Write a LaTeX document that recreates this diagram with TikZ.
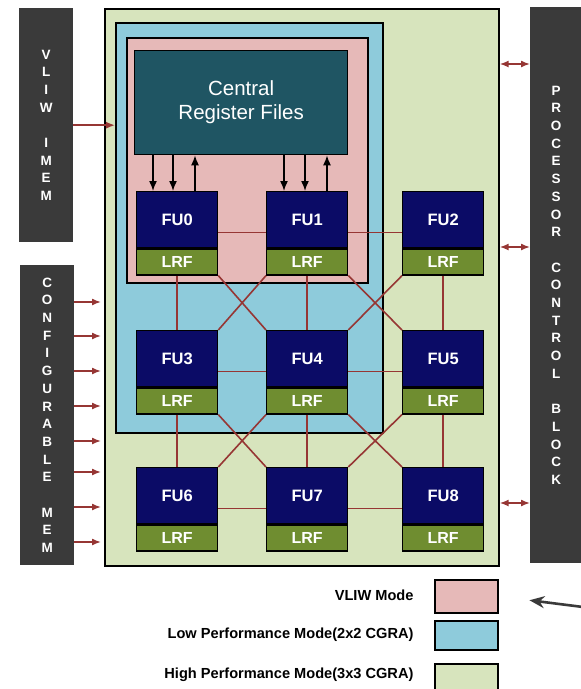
\documentclass[tikz,border=0pt]{standalone}
\usepackage{fontspec}
\setmainfont{Liberation Sans}
\usetikzlibrary{arrows.meta}
\definecolor{outercol}{HTML}{D7E4BD}
\definecolor{bluecol}{HTML}{8ECBDB}
\definecolor{pinkcol}{HTML}{E6B9B8}
\definecolor{darkcol}{HTML}{3A3A3A}
\definecolor{crfcol}{HTML}{1F5563}
\definecolor{fucol}{HTML}{0B0B66}
\definecolor{lrfcol}{HTML}{6F8D30}
\definecolor{linkcol}{HTML}{963634}
\tikzset{
  region/.style={draw=black, line width=1.7pt, anchor=north west, inner sep=0pt},
  darkblock/.style={fill=darkcol, anchor=north west, inner sep=0pt},
  vtext/.style={text=white, align=center, font=\bfseries\fontsize{13.5}{17.7}\selectfont},
  fubox/.style={draw=black, line width=1.3pt, fill=fucol, text=white, anchor=north west,
    minimum width=81pt, minimum height=56pt, inner sep=0pt,
    font=\bfseries\fontsize{16.5}{18}\selectfont},
  lrfbox/.style={draw=black, line width=1.3pt, fill=lrfcol, text=white, anchor=north,
    minimum width=81pt, minimum height=26pt, inner sep=0pt,
    font=\bfseries\fontsize{16}{18}\selectfont},
  link/.style={draw=linkcol, line width=1.6pt},
  redarrow/.style={draw=linkcol, line width=1.5pt, -{Latex[length=9pt,width=7pt]}},
  dblarrow/.style={draw=linkcol, line width=1.5pt, {Latex[length=9pt,width=7pt]}-{Latex[length=9pt,width=7pt]}},
  blackarrow/.style={draw=black, line width=1.5pt, -{Latex[length=10pt,width=8pt]}},
  legendbox/.style={draw=black, line width=1.7pt, anchor=north west, minimum width=63pt, inner sep=0pt},
  legendtext/.style={anchor=east, font=\bfseries\fontsize{14.6}{16}\selectfont},
  bigarrow/.style={draw=darkcol, line width=2.6pt, -{Stealth[length=15pt,width=12pt]}}
}
\newcommand\MyFU[3]{%
  \node[fubox] (fu#1) at (#2,#3) {FU#1};
  \node[lrfbox] (lrf#1) at (fu#1.south) {LRF};
}
\begin{document}
\begin{tikzpicture}[x=1pt,y=-1pt]
\useasboundingbox (0,0) rectangle (581,689);
\fill[white] (0,0) rectangle (581,689);

% mode regions
\node[region, fill=outercol, minimum width=394pt, minimum height=557pt] (outer) at (104,8) {};
\node[region, fill=bluecol, minimum width=267pt, minimum height=410pt] (blue) at (115,22) {};
\node[region, fill=pinkcol, minimum width=241pt, minimum height=245pt] (pink) at (126,37) {};

% central register files
\node[draw=black, line width=1.3pt, fill=crfcol, text=white, anchor=north west,
      minimum width=213pt, minimum height=104pt, inner sep=0pt, align=center,
      font=\fontsize{20.5}{24}\selectfont] (crf) at (134,50) {Central\\Register Files};

% side blocks
\node[darkblock, minimum width=54pt, minimum height=234pt] (imem) at (19,8) {};
\node[vtext] at (imem.center) {V\\L\\I\\W\\\mbox{}\\I\\M\\E\\M};
\node[darkblock, minimum width=54pt, minimum height=300pt] (cfg) at (20,265) {};
\node[vtext] at (cfg.center) {C\\O\\N\\F\\I\\G\\U\\R\\A\\B\\L\\E\\\mbox{}\\M\\E\\M};
\node[darkblock, minimum width=52pt, minimum height=556pt] (pcb) at (530,7) {};
\node[vtext] at (pcb.center) {P\\R\\O\\C\\E\\S\\S\\O\\R\\\mbox{}\\C\\O\\N\\T\\R\\O\\L\\\mbox{}\\B\\L\\O\\C\\K};

% functional units
\MyFU{0}{136}{191}
\MyFU{1}{266}{191}
\MyFU{2}{402}{191}
\MyFU{3}{136}{330}
\MyFU{4}{266}{330}
\MyFU{5}{402}{330}
\MyFU{6}{136}{467}
\MyFU{7}{266}{467}
\MyFU{8}{402}{467}

% horizontal links
\foreach \a/\b in {0/1,1/2,3/4,4/5,6/7,7/8}
  \draw[link] ([yshift=-13pt]fu\a.east) -- ([yshift=-13pt]fu\b.west);
% vertical links
\foreach \a/\b in {0/3,1/4,2/5,3/6,4/7,5/8}
  \draw[link] (lrf\a.south) -- (fu\b.north);
% diagonal links
\foreach \a/\b in {0/4,1/5,3/7,4/8}
  \draw[link] (lrf\a.south east) -- (fu\b.north west);
\foreach \a/\b in {1/3,2/4,4/6,5/7}
  \draw[link] (lrf\a.south west) -- (fu\b.north east);

% CRF <-> FU arrows
\foreach \f/\d in {0/17,0/37,1/18,1/39}
  \draw[blackarrow] ([xshift=\d pt]fu\f.north west |- crf.south) -- ([xshift=\d pt]fu\f.north west);
\foreach \f/\d in {0/59,1/61}
  \draw[blackarrow] ([xshift=\d pt]fu\f.north west) -- ([xshift=\d pt]fu\f.north west |- crf.south);

% memory arrows
\draw[redarrow] (imem.east) -- (imem.east -| blue.west);
\foreach \y in {302,336,371,406,441,472,507,542}
  \draw[redarrow, shorten >=3pt] (cfg.east |- 0,\y) -- (outer.west |- 0,\y);
\foreach \y in {64,247,503}
  \draw[dblarrow] (outer.east |- 0,\y) -- (pcb.west |- 0,\y);

% legend
\node[legendbox, fill=pinkcol, minimum height=33pt] (lg1) at (434,579) {};
\node[legendbox, fill=bluecol, minimum height=29pt] (lg2) at (434,620) {};
\node[legendbox, fill=outercol, minimum height=34pt] (lg3) at (434,663) {};
\node[legendtext] (t1) at (417,595) {VLIW Mode};
\node[legendtext] (t2) at (417,635) {Low Performance Mode(2x2 CGRA)};
\node[legendtext] (t3) at (417,675) {High Performance Mode(3x3 CGRA)};
\coordinate (arrtail) at (583,607);
\draw[bigarrow, shorten >=31pt] (arrtail) -- (lg1.east);
\end{tikzpicture}
\end{document}
